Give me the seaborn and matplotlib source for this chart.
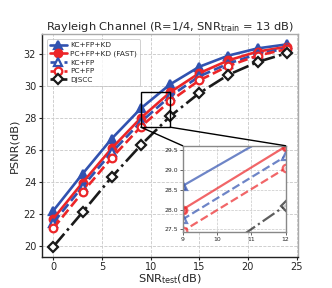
import numpy as np
import pandas as pd
import matplotlib
matplotlib.use("Agg")
import matplotlib.pyplot as plt
from matplotlib.patches import Rectangle, ConnectionPatch
import seaborn as sns

snr = [0, 3, 6, 9, 12, 15, 18, 21, 24]
kc_fp_kd = [22.2, 24.5, 26.7, 28.6, 30.1, 31.2, 31.9, 32.35, 32.6]
pc_fp_kd = [21.7, 23.95, 26.1, 28.0, 29.6, 30.8, 31.6, 32.15, 32.45]
kc_fp = [21.45, 23.7, 25.85, 27.75, 29.35, 30.6, 31.4, 32.0, 32.35]
pc_fp = [21.1, 23.35, 25.5, 27.45, 29.05, 30.35, 31.25, 31.9, 32.3]
djscc = [19.95, 22.1, 24.3, 26.3, 28.1, 29.55, 30.7, 31.5, 32.05]
labels = ["KC+FP+KD", "PC+FP+KD (FAST)", "KC+FP", "PC+FP", "DJSCC"]

BLUE = "#3152b0"
RED = "#ec2528"
BLACK = "#1a1a1a"

sns.set_theme(style="whitegrid")
plt.rcParams["font.family"] = ["DejaVu Sans"]

fig = plt.figure(figsize=(3.32, 2.88), dpi=100)
ax = fig.add_axes([0.1256, 0.1087, 0.7734, 0.7723])

series = [
    (kc_fp_kd, labels[0], BLUE, "-", "^", True),
    (pc_fp_kd, labels[1], RED, "-", "o", True),
    (kc_fp, labels[2], BLUE, "--", "^", False),
    (pc_fp, labels[3], RED, "--", "o", False),
    (djscc, labels[4], BLACK, "-.", "D", False),
]

def draw(a, lw, ms, alpha=1.0, legend=True):
    for vals, lab, col, ls, mk, filled in series:
        sns.lineplot(x=snr, y=vals, ax=a, color=col, linestyle=ls, linewidth=lw,
                     marker=mk, markersize=ms, markeredgecolor=col,
                     markerfacecolor=col if filled else "white",
                     markeredgewidth=1.6, label=lab if legend else None,
                     alpha=alpha, legend=False)

draw(ax, 1.9, 5.5)

ax.set_facecolor("white")
ax.grid(True, color="#c8c8c8", linestyle="--", linewidth=0.6)
for s in ["left", "bottom"]:
    ax.spines[s].set_color("#222222")
    ax.spines[s].set_linewidth(1.0)
for s in ["top", "right"]:
    ax.spines[s].set_color("#aaaaaa")
    ax.spines[s].set_linewidth(1.0)
ax.tick_params(axis="both", direction="out", length=2.5, width=0.8, color="#222222",
               labelsize=7.0, pad=1.5, left=True, bottom=True)
ax.set_xticks([0, 5, 10, 15, 20, 25])
ax.set_yticks([20, 22, 24, 26, 28, 30, 32])
ax.set_xlabel("SNR$_\\mathregular{test}$(dB)", fontsize=8.2, labelpad=0)
ax.set_ylabel("PSNR(dB)", fontsize=8.2, labelpad=3)
ax.set_title("Rayleigh Channel (R=1/4, SNR$_\\mathregular{train}$ = 13 dB)", fontsize=8.2, pad=3)

leg = ax.legend(loc="upper left", fontsize=5.3, frameon=True, handlelength=2.3,
                borderpad=0.4, labelspacing=0.32, handletextpad=0.5,
                bbox_to_anchor=(0.005, 0.995))
leg.get_frame().set_edgecolor("#bbbbbb")
leg.get_frame().set_linewidth(0.6)

# inset
x0, x1 = 9, 12
y0, y1 = 27.42, 29.62
axins = fig.add_axes([0.550, 0.193, 0.310, 0.301])
draw(axins, 1.6, 5.5, alpha=0.7, legend=False)
axins.set_xlim(x0, x1)
axins.set_ylim(y0, y1)
axins.set_facecolor("white")
axins.grid(True, color="#c8c8c8", linestyle="--", linewidth=0.5)
axins.set_xticks([9, 10, 11, 12])
axins.set_yticks([27.5, 28.0, 28.5, 29.0, 29.5])
axins.tick_params(labelsize=4.4, length=2, width=0.5, pad=1.5, left=True, bottom=True,
                  direction="out")
for s in axins.spines.values():
    s.set_color("#888888")
    s.set_linewidth(1.0)

rect = Rectangle((x0, y0), x1 - x0, y1 - y0, fill=False, edgecolor="black",
                 linewidth=1.0, zorder=5)
ax.add_patch(rect)
for (xa, ya), (xb, yb) in [((x0, y0), (0, 1)), ((x1, y0), (1, 1))]:
    con = ConnectionPatch(xyA=(xa, ya), coordsA=ax.transData, xyB=(xb, yb),
                          coordsB=axins.transAxes, color="black", linewidth=1.0)
    fig.add_artist(con)

fig.savefig("out.png", dpi=100)
